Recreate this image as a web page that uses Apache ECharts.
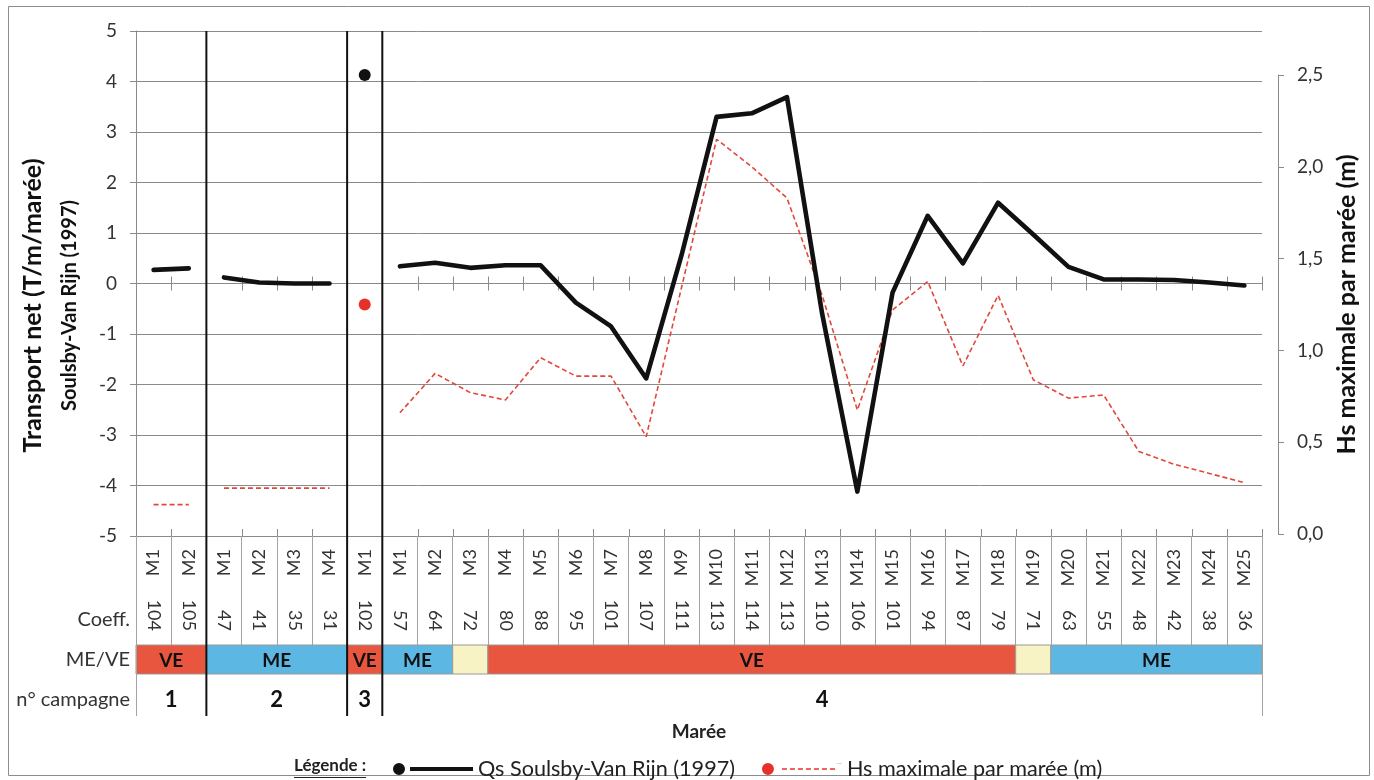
<!DOCTYPE html>
<html><head><meta charset="utf-8">
<script src="https://cdn.jsdelivr.net/npm/echarts@6/dist/echarts.min.js"></script>
<style>html,body{margin:0;padding:0;background:#fff}#c{width:1374px;height:780px}</style>
</head><body><div id="c"></div>
<script>
// ---------- DATA ----------
const categories = ['M1','M2','M1','M2','M3','M4','M1',
  'M1','M2','M3','M4','M5','M6','M7','M8','M9','M10','M11','M12','M13','M14','M15','M16','M17','M18','M19','M20','M21','M22','M23','M24','M25'];
const coefficients = ['104','105','47','41','35','31','102',
  '57','64','72','80','88','95','101','107','111','113','114','113','110','106','101','94','87','79','71','63','55','48','42','38','36'];
const qsValues = [0.27,0.30, 0.12,0.02,0.00,0.00, 4.13,
  0.34,0.41,0.31,0.36,0.36,-0.38,-0.85,-1.88,0.55,3.30,3.37,3.69,-0.60,-4.12,-0.18,1.34,0.40,1.60,0.97,0.33,0.08,0.08,0.07,0.02,-0.04];
const hsValues = [0.16,0.16, 0.25,0.25,0.25,0.25, 1.25,
  0.66,0.875,0.77,0.73,0.96,0.86,0.86,0.53,1.34,2.15,2.00,1.83,1.30,0.675,1.22,1.375,0.915,1.30,0.84,0.74,0.757,0.45,0.38,0.33,0.28];
const campaignStart = [0,2,6,7];
const campaignEnd   = [1,5,6,31];
const campaignLabels = ['1','2','3','4'];
const meveStart = [0,2,6,7,9,10,25,26];
const meveEnd   = [1,5,6,8,9,24,25,31];
const meveType  = ['VE','ME','VE','ME','','VE','','ME'];
const leftTicks = {min:-5, max:5, interval:1};
const rightTicks = {min:0, max:2.5, interval:0.5};
const qsName = 'Qs Soulsby-Van Rijn (1997)';
const hsName = 'Hs maximale par marée (m)';

// ---------- STYLE ----------
const FONT = 'Lato, "Open Sans", sans-serif';
const GRID_L = 136, GRID_T = 31, GRID_W = 1126, GRID_H = 505;
const ROW_TOP = 109, ROW_H = 29, TABLE_H = 180, CAMP_Y = 164;
const meveColors = {VE:'#e8563f', ME:'#5cb8e3', '':'#f8f3c4'};
const tableLine = '#a3a3a3';

function bounds(api, s, e){
  const bw = api.size([1,0])[0];
  return [api.coord([s,0])[0]-bw/2, api.coord([e,0])[0]+bw/2];
}

const series = [];
campaignStart.forEach((s,c)=>{
  const e = campaignEnd[c];
  const single = s===e;
  series.push({
    name: qsName, type:'line', xAxisIndex:0, yAxisIndex:0, z:5,
    data: qsValues.map((v,i)=> (i>=s && i<=e) ? v : null),
    symbol: single ? 'circle':'none', symbolSize: 12, showSymbol: single,
    itemStyle:{color:'#111'}, lineStyle:{color:'#111', width:4.6, cap:'round', join:'round'},
    connectNulls:false, animation:false, silent:true
  });
  series.push({
    name: hsName, type:'line', xAxisIndex:1, yAxisIndex:1, z:4,
    data: hsValues.map((v,i)=> (i>=s && i<=e) ? v : null),
    symbol: single ? 'circle':'none', symbolSize: 12, showSymbol: single,
    itemStyle:{color:'#e8302a'}, lineStyle:{color:'#e2483a', width:1.6, type:[5,3]},
    connectNulls:false, animation:false, silent:true
  });
});

// ME/VE coloured row
series.push({
  type:'custom', xAxisIndex:0, yAxisIndex:0, silent:true, animation:false, z:3,
  data: meveStart.map((s,i)=>[s, meveEnd[i]]), encode:{x:[0,1]},
  renderItem(params, api){
    const i = params.dataIndex, cs = params.coordSys;
    const [x0,x1] = bounds(api, meveStart[i], meveEnd[i]);
    const yb = cs.y + cs.height;
    return {type:'group', children:[
      {type:'rect', shape:{x:x0, y:yb+ROW_TOP, width:x1-x0, height:ROW_H},
       style:{fill:meveColors[meveType[i]], stroke:'#999', lineWidth:1}},
      {type:'text', style:{text:meveType[i], x:(x0+x1)/2, y:yb+ROW_TOP+ROW_H/2+1,
        align:'center', verticalAlign:'middle', font:'bold 19px '+FONT, fill:'#111'}}
    ]};
  }
});
// campaign row + thick separators
series.push({
  type:'custom', xAxisIndex:0, yAxisIndex:0, silent:true, animation:false, z:6,
  data: campaignStart.map((s,i)=>[s, campaignEnd[i]]), encode:{x:[0,1]},
  renderItem(params, api){
    const i = params.dataIndex, cs = params.coordSys;
    const [x0,x1] = bounds(api, campaignStart[i], campaignEnd[i]);
    const yb = cs.y + cs.height;
    const ch = [{type:'text', style:{text:campaignLabels[i], x:(x0+x1)/2, y:yb+CAMP_Y,
        align:'center', verticalAlign:'middle', font:'bold 22px '+FONT, fill:'#111'}}];
    if (i < campaignStart.length-1) {
      ch.push({type:'line', shape:{x1:x1, y1:cs.y, x2:x1, y2:yb+TABLE_H}, style:{stroke:'#111', lineWidth:2}});
    }
    return {type:'group', children:ch};
  }
});
// tick marks on zero line, on bottom line, table outer edges
series.push({
  type:'custom', xAxisIndex:0, yAxisIndex:0, silent:true, animation:false, z:3,
  data: categories.map((c,i)=>[i,0]), encode:{x:0, y:1},
  renderItem(params, api){
    const i = params.dataIndex, cs = params.coordSys;
    const [x0,x1] = bounds(api, i, i);
    const y0 = api.coord([i,0])[1];
    const yb = cs.y + cs.height;
    const st = {stroke:'#8a8a8a', lineWidth:1};
    const xs = [x0]; if (i===categories.length-1) xs.push(x1);
    const ch = [];
    xs.forEach(x=>{
      const xx = Math.round(x)+0.5;
      ch.push({type:'line', shape:{x1:xx,y1:y0-7,x2:xx,y2:y0+7}, style:st});
      ch.push({type:'line', shape:{x1:xx,y1:yb-7,x2:xx,y2:yb}, style:st});
    });
    if (i===0) ch.push({type:'line', shape:{x1:Math.round(x0)+0.5,y1:yb,x2:Math.round(x0)+0.5,y2:yb+TABLE_H}, style:{stroke:tableLine,lineWidth:1}});
    if (i===categories.length-1) ch.push({type:'line', shape:{x1:Math.round(x1)+0.5,y1:yb,x2:Math.round(x1)+0.5,y2:yb+TABLE_H}, style:{stroke:tableLine,lineWidth:1}});
    return {type:'group', children:ch};
  }
});

const option = {
  animation:false,
  backgroundColor:'#ffffff',
  textStyle:{fontFamily:FONT},
  grid:[
    {left:GRID_L, top:GRID_T, width:GRID_W, height:GRID_H},
    {left:GRID_L, top:75, width:GRID_W, height:459},
    {left:GRID_L, top:633, width:GRID_W, height:10}
  ],
  xAxis:[
    {type:'category', gridIndex:0, data:categories, position:'bottom', boundaryGap:true,
     axisLine:{onZero:false, lineStyle:{color:'#8a8a8a'}},
     axisTick:{show:true, interval:0, inside:false, length:109, lineStyle:{color:tableLine}},
     axisLabel:{interval:0, rotate:90, margin:13, fontSize:18, color:'#333', fontFamily:FONT},
     splitLine:{show:false},
     name:'Marée', nameLocation:'middle', nameGap:186,
     nameTextStyle:{fontSize:19, fontWeight:'bold', color:'#222', fontFamily:FONT}},
    {type:'category', gridIndex:1, data:categories, show:false, boundaryGap:true},
    {type:'category', gridIndex:2, data:coefficients, position:'top', boundaryGap:true,
     axisLine:{show:false, onZero:false}, axisTick:{show:false},
     axisLabel:{interval:0, rotate:90, margin:2, fontSize:18, color:'#333', fontFamily:FONT}}
  ],
  yAxis:[
    {type:'value', gridIndex:0, min:leftTicks.min, max:leftTicks.max, interval:leftTicks.interval,
     axisLine:{show:true, lineStyle:{color:'#8a8a8a'}},
     axisTick:{show:true, length:6, lineStyle:{color:'#8a8a8a'}},
     axisLabel:{fontSize:19, color:'#333', margin:19, fontFamily:FONT},
     splitLine:{show:true, lineStyle:{color:'#8a8a8a', width:1}},
     name:'{a|Transport net (T/m/marée)}\n{b|Soulsby-Van Rijn (1997)}',
     nameLocation:'middle', nameRotate:90, nameGap:47,
     nameTextStyle:{fontFamily:FONT, lineHeight:37, padding:[0,44,0,0], rich:{
       a:{fontSize:25, fontWeight:'bold', color:'#111', fontFamily:FONT, lineHeight:37},
       b:{fontSize:20, fontWeight:'bold', color:'#111', fontFamily:FONT, lineHeight:37}}}},
    {type:'value', gridIndex:1, position:'right', offset:16,
     min:rightTicks.min, max:rightTicks.max, interval:rightTicks.interval,
     axisLine:{show:true, lineStyle:{color:'#8a8a8a'}},
     axisTick:{show:true, length:6, lineStyle:{color:'#8a8a8a'}},
     axisLabel:{fontSize:19, color:'#333', margin:19, fontFamily:FONT,
       formatter:v=>v.toFixed(1).replace('.',',')},
     splitLine:{show:false},
     name:hsName, nameLocation:'middle', nameRotate:90, nameGap:49,
     nameTextStyle:{fontSize:25, fontWeight:'bold', color:'#111', fontFamily:FONT}},
    {type:'value', gridIndex:2, show:false, min:0, max:1}
  ],
  legend:{
    left:388, top:753, itemGap:27, itemWidth:80, itemHeight:12, selectedMode:false,
    itemStyle:{borderWidth:0},
    textStyle:{fontSize:21.6, color:'#222', fontFamily:FONT},
    data:[
      {name:qsName, icon:'path://M0,6a6,6 0 1,0 12,0a6,6 0 1,0 -12,0Z M17,4h63v4h-63Z'},
      {name:hsName, icon:'path://M0,6a6,6 0 1,0 12,0a6,6 0 1,0 -12,0Z M20,5.2h5v1.6h-5Z M28,5.2h5v1.6h-5Z M36,5.2h5v1.6h-5Z M44,5.2h5v1.6h-5Z M52,5.2h5v1.6h-5Z M60,5.2h5v1.6h-5Z M68,5.2h5v1.6h-5Z M75,0.1h5v0.1h-5Z'}
    ]
  },
  graphic:[
    {type:'rect', shape:{x:8.5, y:6.5, width:1361, height:769}, style:{fill:null, stroke:'#8c8c8c', lineWidth:1}, silent:true, z:-10},
    {type:'text', style:{text:'Coeff.', x:130, y:620, align:'right', verticalAlign:'middle', font:'20px '+FONT, fill:'#333'}},
    {type:'text', style:{text:'ME/VE', x:130, y:660, align:'right', verticalAlign:'middle', font:'20px '+FONT, fill:'#333'}},
    {type:'text', style:{text:'n° campagne', x:130, y:700, align:'right', verticalAlign:'middle', font:'20px '+FONT, fill:'#333'}},
    {type:'text', style:{text:'Légende :', x:294, y:766, align:'left', verticalAlign:'middle', font:'bold 17px '+FONT, fill:'#222'}},
    {type:'line', shape:{x1:294, y1:777.5, x2:366, y2:777.5}, style:{stroke:'#222', lineWidth:1.2}}
  ],
  series
};
const chart = echarts.init(document.getElementById('c'), null, {renderer:'canvas'});
chart.setOption(option);
</script></body></html>
